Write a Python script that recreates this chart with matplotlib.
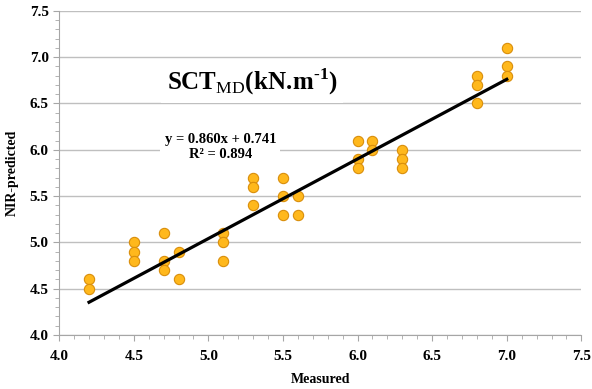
import matplotlib
matplotlib.use("Agg")
from matplotlib import pyplot as plt
from matplotlib.ticker import MultipleLocator

# measured vs NIR-predicted SCT values
measured = [4.2, 4.2,
            4.5, 4.5, 4.5,
            4.7, 4.7, 4.7,
            4.8, 4.8,
            5.1, 5.1, 5.1,
            5.3, 5.3, 5.3,
            5.5, 5.5, 5.5,
            5.6, 5.6,
            6.0, 6.0, 6.0,
            6.1, 6.1,
            6.3, 6.3, 6.3,
            6.8, 6.8, 6.8,
            7.0, 7.0, 7.0]
predicted = [4.6, 4.5,
             5.0, 4.9, 4.8,
             5.1, 4.8, 4.7,
             4.9, 4.6,
             5.1, 5.0, 4.8,
             5.7, 5.6, 5.4,
             5.7, 5.5, 5.3,
             5.5, 5.3,
             6.1, 5.9, 5.8,
             6.1, 6.0,
             6.0, 5.9, 5.8,
             6.8, 6.7, 6.5,
             7.1, 6.9, 6.8]

slope = 0.860
intercept = 0.741
r2 = 0.894

plt.rcParams.update({
    "font.family": "Liberation Serif",
    "font.weight": "bold",
    "mathtext.fontset": "custom",
    "mathtext.rm": "Liberation Serif:normal",
    "mathtext.bf": "Liberation Serif:bold",
})

fig, ax = plt.subplots(figsize=(5.92, 3.89), dpi=100)
plt.subplots_adjust(left=0.1, right=0.982, top=0.972, bottom=0.139)

ax.set_xlim(4.0, 7.5)
ax.set_ylim(4.0, 7.5)
ax.xaxis.set_major_locator(MultipleLocator(0.5))
ax.xaxis.set_minor_locator(MultipleLocator(0.1))
ax.yaxis.set_major_locator(MultipleLocator(0.5))
ax.yaxis.set_minor_locator(MultipleLocator(0.1))
ax.xaxis.set_major_formatter(lambda v, p: f"{v:.1f}")
ax.yaxis.set_major_formatter(lambda v, p: f"{v:.1f}")

# horizontal gridlines only
ax.grid(axis="y", which="major", color="#BFBFBF", linewidth=1)
ax.set_axisbelow(True)
for side in ["top", "right"]:
    ax.spines[side].set_visible(False)
for side in ["left", "bottom"]:
    ax.spines[side].set_color("#A6A6A6")
ax.tick_params(which="both", color="#A6A6A6", direction="out", labelsize=11)
ax.tick_params(which="major", length=4)
ax.tick_params(which="minor", length=3)
ax.tick_params(axis="x", pad=7)

ax.scatter(measured, predicted, s=55, facecolor="#FFB81C",
           edgecolor="#D98E0B", linewidth=0.8, zorder=3)

# linear trend line over the measured range
xs = [min(measured), max(measured)]
ax.plot(xs, [slope * x + intercept for x in xs], color="black",
        linewidth=2.3, zorder=4)

# \! cancels the space mathtext puts after the period
title = (r"$\mathbf{SCT}_{\mathrm{MD}}\mathbf{(kN.\!m}"
         "^{\\mathbf{\u20101}}"
         r"\mathbf{)}$")
ax.text(4.72, 6.73, title,
        fontsize=18, ha="left", va="center", zorder=5,
        bbox=dict(facecolor="white", edgecolor="none", pad=4))
ax.text(5.08, 6.03, f"y = {slope:.3f}x + {intercept:.3f}\nR\u00b2 = {r2:.3f}",
        fontsize=10.5, ha="center", va="center", linespacing=1.25, zorder=5,
        bbox=dict(facecolor="white", edgecolor="none", pad=3))

ax.set_xlabel("Measured", fontsize=10, fontweight="bold", labelpad=7)
ax.set_ylabel("NIR-predicted", fontsize=10, fontweight="bold", labelpad=8)

plt.savefig("out.png", dpi=100)
